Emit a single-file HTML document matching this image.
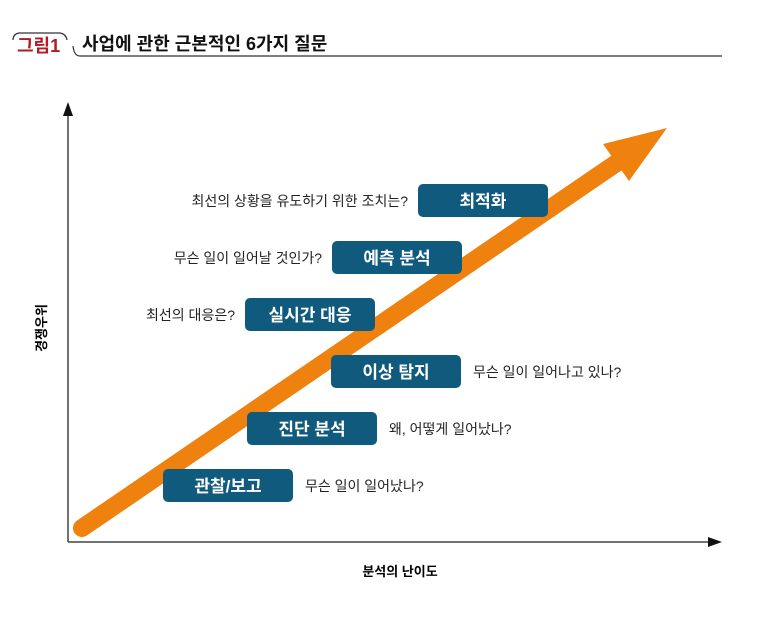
<!DOCTYPE html>
<html><head><meta charset="utf-8"><style>
body{margin:0;background:#fff;font-family:"Liberation Sans","Noto Sans CJK KR",sans-serif;}
.t{font-family:"Liberation Sans","Noto Sans CJK KR",sans-serif;}
</style></head><body>
<svg width="770" height="620" viewBox="0 0 770 620" xmlns="http://www.w3.org/2000/svg">
<g>
<path d="M13 40 Q13 34 19 33 L60 33 Q66 34 67 40" fill="none" stroke="#333" stroke-width="1.2"/>
<text x="17" y="52" font-size="18" fill="#b01c22" font-weight="bold" class="t">그림1</text>
<path d="M73 46 Q74 56 80 56 L722 56" fill="none" stroke="#333" stroke-width="1.2"/>
<text x="82" y="50" font-size="18" fill="#111" font-weight="bold" class="t">사업에 관한 근본적인 6가지 질문</text>
</g>
<g>
<line x1="68" y1="112" x2="68" y2="542" stroke="#444" stroke-width="1.5"/>
<polygon points="68,102 63,116 73,116" fill="#111"/>
<line x1="68" y1="542" x2="712" y2="542" stroke="#444" stroke-width="1.5"/>
<polygon points="722,542 708,537 708,547" fill="#111"/>
<text x="0" y="0" transform="translate(46,328) rotate(-90)" text-anchor="middle" font-size="13" font-weight="bold" class="t">경쟁우위</text>
<text x="400" y="576" text-anchor="middle" font-size="13" font-weight="bold" class="t">분석의 난이도</text>
</g>
<g>
<line x1="82" y1="528" x2="618" y2="162" stroke="#ef820f" stroke-width="18" stroke-linecap="round"/>
<polygon points="667,128 603,144 629,181" fill="#ef820f"/>
</g>
<g id="steps"></g>
</svg>
<script>
const labels=["관찰/보고","진단 분석","이상 탐지","실시간 대응","예측 분석","최적화"];
const questions=["무슨 일이 일어났나?","왜, 어떻게 일어났나?","무슨 일이 일어나고 있나?","최선의 대응은?","무슨 일이 일어날 것인가?","최선의 상황을 유도하기 위한 조치는?"];
const boxX=[163,247,331,245,332,418];
const side=["right","right","right","left","left","left"];
const g=document.getElementById('steps');
const NS="http://www.w3.org/2000/svg";
for(let i=0;i<labels.length;i++){
  const y=469-57*i, x=boxX[i];
  const r=document.createElementNS(NS,'rect');
  
  
  r.setAttribute('x',x);r.setAttribute('y',y);r.setAttribute('width',130);r.setAttribute('height',33);r.setAttribute('rx',5);r.setAttribute('fill','#0f5a7d');
  g.appendChild(r);
  const t=document.createElementNS(NS,'text');
  
  
  t.setAttribute('x',x+65);t.setAttribute('y',y+23);t.setAttribute('text-anchor','middle');t.setAttribute('font-size','17');t.setAttribute('font-weight','bold');t.setAttribute('fill','#fff');t.setAttribute('class','t');
  t.textContent=labels[i];g.appendChild(t);
  const q=document.createElementNS(NS,'text');
  
  
  if(side[i]==="right"){q.setAttribute('x',x+142);q.setAttribute('text-anchor','start');}
  else{q.setAttribute('x',x-10);q.setAttribute('text-anchor','end');}
  q.setAttribute('y',y+22);q.setAttribute('font-size','14');q.setAttribute('fill','#222');q.setAttribute('class','t');
  q.textContent=questions[i];g.appendChild(q);
}
</script>
</body></html>
